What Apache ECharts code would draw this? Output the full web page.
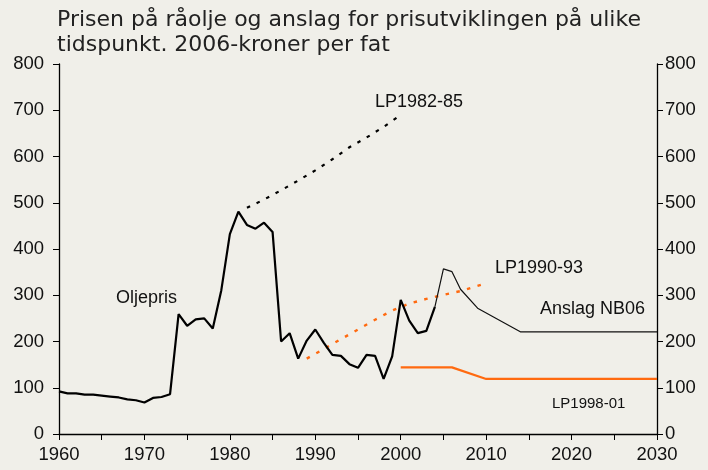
<!DOCTYPE html>
<html>
<head>
<meta charset="utf-8">
<script src="https://cdn.jsdelivr.net/npm/echarts@6/dist/echarts.min.js"></script>
<style>
html,body{margin:0;padding:0;background:#F0EFE9;}
#c{width:708px;height:470px;}
</style>
</head>
<body>
<div id="c"></div>
<script>
// Oil price (actual), 2006-kroner per barrel
const oilYears = [1960,1961,1962,1963,1964,1965,1966,1967,1968,1969,1970,1971,1972,1973,1974,1975,1976,1977,1978,1979,1980,1981,1982,1983,1984,1985,1986,1987,1988,1989,1990,1991,1992,1993,1994,1995,1996,1997,1998,1999,2000,2001,2002,2003,2004];
const oilValues = [92,88,88,85,85,83,81,79,75,73,68,78,80,86,259,234,248,250,228,311,432,481,452,444,457,437,200,218,163,202,226,197,171,169,151,143,171,169,119,168,290,245,218,223,275];
// Anslag NB06
const nb06Years = [2004,2005,2006,2007,2009,2014,2030];
const nb06Values = [275,357,351,313,272,221,221];
// LP1982-85
const lp82Years = [1982,1984,1986,1988,1990,1992,1994,1996,1998,2000];
const lp82Values = [489,507,527,548,570,594,620,641,664,690];
// LP1990-93
const lp90Years = [1989,1991,1993,1995,1997,1999,2001,2003,2005,2007,2010];
const lp90Values = [163,184,205,226,247,267,282,292,301,309,326];
// LP1998-01
const lp98Years = [2000,2006,2010,2030];
const lp98Values = [144,144,119,119];
// Axis ticks
const xMin = 1960, xMax = 2030, xStep = 5;
const yMin = 0, yMax = 800, yStep = 100;

const titleText = 'Prisen på råolje og anslag for prisutviklingen på ulike\ntidspunkt. 2006-kroner per fat';
const labels = {
  oil: 'Oljepris', lp82: 'LP1982-85', lp90: 'LP1990-93', nb06: 'Anslag NB06', lp98: 'LP1998-01'
};

function pairs(xs, ys){ return xs.map((x,i)=>[x, ys[i]]); }

const chart = echarts.init(document.getElementById('c'), null, {renderer:'canvas'});
const axisFont = {fontFamily:'Liberation Sans, Arial, sans-serif', fontSize:18.5, color:'#111'};
const yAxisBase = {
  type:'value', min:yMin, max:yMax, interval:yStep,
  axisLine:{show:true, lineStyle:{color:'#000', width:1.3}},
  axisTick:{show:true, inside:false, length:6, lineStyle:{color:'#000', width:1}},
  splitLine:{show:false},
};
const option = {
  backgroundColor:'#F0EFE9',
  animation:false,
  title:{
    text:titleText, left:57, top:8, padding:0,
    textStyle:{fontFamily:'DejaVu Sans', fontSize:22, fontWeight:'normal', color:'#222', lineHeight:25}
  },
  grid:{left:59, right:51, top:64, bottom:36, containLabel:false},
  xAxis:{
    type:'value', min:xMin, max:xMax, interval:xStep,
    axisLine:{show:true, onZero:false, lineStyle:{color:'#000', width:1.3}},
    axisTick:{show:true, inside:false, length:6, lineStyle:{color:'#000', width:1}},
    splitLine:{show:false},
    axisLabel:Object.assign({margin:11, formatter:v => (v % 10 === 0 ? String(v) : '')}, axisFont)
  },
  yAxis:[
    Object.assign({position:'left', axisLabel:Object.assign({margin:15}, axisFont)}, yAxisBase),
    Object.assign({position:'right', axisLabel:Object.assign({margin:8}, axisFont)}, yAxisBase)
  ],
  series:[
    {type:'line', name:'Oljepris', data:pairs(oilYears, oilValues), showSymbol:false,
      lineStyle:{color:'#000', width:2.2}, z:5},
    {type:'line', name:'Anslag NB06', data:pairs(nb06Years, nb06Values), showSymbol:false,
      lineStyle:{color:'#111', width:1.2}, z:4},
    {type:'line', name:'LP1982-85', data:pairs(lp82Years, lp82Values), showSymbol:false,
      lineStyle:{color:'#000', width:2.2, type:[3.5,7.2], cap:'butt'}, z:3},
    {type:'line', name:'LP1990-93', data:pairs(lp90Years, lp90Values), showSymbol:false,
      lineStyle:{color:'#FF6A10', width:2.4, type:[3.5,7.5], cap:'butt'}, z:3},
    {type:'line', name:'LP1998-01', data:pairs(lp98Years, lp98Values), showSymbol:false,
      lineStyle:{color:'#FF6A10', width:2.2}, z:3}
  ],
  graphic:[
    {type:'text', left:116, top:289, style:{text:labels.oil, font:'18px "Liberation Sans", Arial', fill:'#111'}},
    {type:'text', left:375, top:93, style:{text:labels.lp82, font:'18px "Liberation Sans", Arial', fill:'#111'}},
    {type:'text', left:495, top:259, style:{text:labels.lp90, font:'18px "Liberation Sans", Arial', fill:'#111'}},
    {type:'text', left:540, top:300, style:{text:labels.nb06, font:'18px "Liberation Sans", Arial', fill:'#111'}},
    {type:'text', left:552, top:396, style:{text:labels.lp98, font:'15px "Liberation Sans", Arial', fill:'#111'}}
  ]
};
chart.setOption(option);
</script>
</body>
</html>
